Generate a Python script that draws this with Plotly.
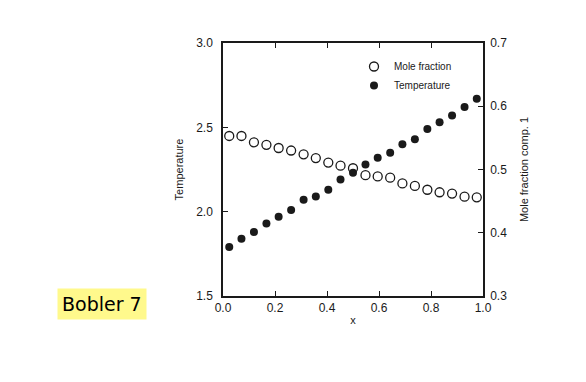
import plotly.graph_objects as go

# ---- data ----
x_vals = [0.024, 0.071, 0.119, 0.167, 0.214, 0.262, 0.310, 0.357, 0.405, 0.452,
          0.500, 0.548, 0.595, 0.643, 0.690, 0.738, 0.786, 0.833, 0.881, 0.929, 0.976]
temperature = [1.79, 1.84, 1.88, 1.93, 1.97, 2.01, 2.07, 2.09, 2.13, 2.19,
               2.23, 2.28, 2.32, 2.35, 2.40, 2.43, 2.49, 2.53, 2.57, 2.62, 2.67]
mole_fraction = [0.553, 0.553, 0.543, 0.539, 0.534, 0.530, 0.524, 0.518, 0.511, 0.506,
                 0.502, 0.491, 0.489, 0.487, 0.478, 0.474, 0.468, 0.464, 0.462, 0.457, 0.456]
x_ticks = [0.0, 0.2, 0.4, 0.6, 0.8, 1.0]
temp_ticks = [1.5, 2.0, 2.5, 3.0]
mf_ticks = [0.3, 0.4, 0.5, 0.6, 0.7]

W, H = 586, 382
OFF = 8  # default page margin of the html body
L, R, T, B = 223 - OFF, 483 - OFF, 43 - OFF, 296 - OFF
FONT = "Liberation Sans Narrow, Arial Narrow, Liberation Sans, Arial"
INK = "#1a1a1a"

def px(xp):
    return (xp - OFF - L) / (R - L)

def py(yp):
    return (B - (yp - OFF)) / (B - T)

fig = go.Figure()
fig.add_trace(go.Scatter(
    x=x_vals, y=mole_fraction, mode="markers", name="Mole fraction", yaxis="y2",
    marker=dict(symbol="circle-open", size=9, color=INK, line=dict(width=1.3, color=INK)),
))
fig.add_trace(go.Scatter(
    x=x_vals, y=temperature, mode="markers", name="Temperature",
    marker=dict(symbol="circle", size=8, color=INK),
))

axis_common = dict(
    showgrid=False, zeroline=False, showline=True, linecolor=INK, linewidth=1.5,
    ticks="inside", ticklen=5, tickwidth=1.2, tickcolor=INK, automargin=False,
    tickfont=dict(family=FONT, size=12, color=INK),
)

fig.update_layout(
    width=W, height=H,
    margin=dict(l=L, r=W - R, t=T, b=H - B, autoexpand=False),
    paper_bgcolor="white", plot_bgcolor="white",
    xaxis=dict(range=[0, 1.0], tickvals=x_ticks, ticktext=[f"{v:.1f}" for v in x_ticks],
               mirror="ticks", ticklabelstandoff=0,
               title=dict(text="x", font=dict(family=FONT, size=11, color=INK), standoff=2),
               **axis_common),
    yaxis=dict(range=[1.5, 3.0], tickvals=temp_ticks, ticktext=[f"{v:.1f}" for v in temp_ticks],
               ticklabelstandoff=6,
               title=dict(text="Temperature", font=dict(family=FONT, size=11, color=INK), standoff=10),
               **axis_common),
    yaxis2=dict(range=[0.3, 0.7], tickvals=mf_ticks, ticktext=[f"{v:.1f}" for v in mf_ticks],
                overlaying="y", side="right", ticklabelstandoff=3,
                title=dict(text="Mole fraction comp. 1", font=dict(family=FONT, size=11, color=INK), standoff=14),
                **axis_common),
    showlegend=True,
    legend=dict(x=px(354), y=py(52), xanchor="left", yanchor="top",
                bgcolor="rgba(0,0,0,0)", borderwidth=0,
                font=dict(family=FONT, size=10, color=INK),
                itemwidth=30, tracegroupgap=0),
    annotations=[dict(
        text="Bobler 7", xref="paper", yref="paper", x=px(102), y=py(304),
        xanchor="center", yanchor="middle", showarrow=False,
        font=dict(family="DejaVu Sans", size=19, color="black"),
        bgcolor="#FFF98C", borderpad=4,
    )],
)

fig.write_html("out.html")
